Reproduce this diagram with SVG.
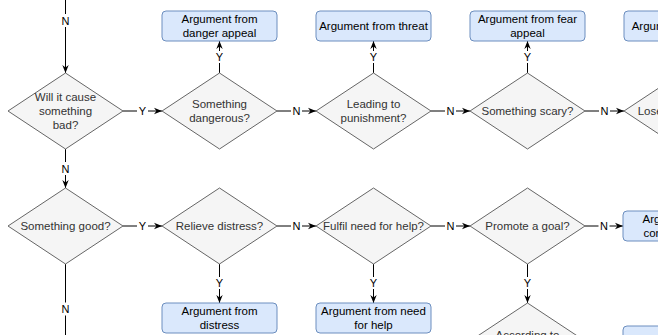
<svg xmlns="http://www.w3.org/2000/svg" width="658" height="335" viewBox="0 0 658 335">
<defs>
<style>
.d{fill:#f5f5f5;stroke:#666666;stroke-width:1}
.b{fill:#dae8fc;stroke:#6c8ebf;stroke-width:1}
.t{font-family:"Liberation Sans",Arial,Helvetica,sans-serif;font-size:11.5px;text-anchor:middle}
.dt{fill:#333333}
.bt{fill:#000000}
.e{stroke:#000000;stroke-width:1;fill:none;marker-end:url(#arr)}
.lb{fill:#ffffff}
.l{font-family:"Liberation Sans",Arial,Helvetica,sans-serif;font-size:11px;text-anchor:middle;fill:#000000}
</style>
<marker id="arr" viewBox="0 0 10 10" refX="10" refY="5" markerWidth="8" markerHeight="8" markerUnits="userSpaceOnUse" orient="auto">
<path d="M0,1 L10,5 L0,9 L3,5 z" fill="#000000"/>
</marker>
</defs>
<rect width="658" height="335" fill="#ffffff"/>

<g id="connectors">
<line class="e" x1="65.5" y1="0" x2="65.5" y2="73"/>
<line class="e" x1="123" y1="111" x2="162" y2="111"/>
<line class="e" x1="277" y1="111" x2="316" y2="111"/>
<line class="e" x1="431" y1="111" x2="470" y2="111"/>
<line class="e" x1="585" y1="111" x2="624" y2="111"/>
<line class="e" x1="219.5" y1="73" x2="219.5" y2="41"/>
<line class="e" x1="373.5" y1="73" x2="373.5" y2="41"/>
<line class="e" x1="527.5" y1="73" x2="527.5" y2="41"/>
<line class="e" x1="65.5" y1="149" x2="65.5" y2="188"/>
<line class="e" x1="123" y1="226" x2="162" y2="226"/>
<line class="e" x1="277" y1="226" x2="316" y2="226"/>
<line class="e" x1="431" y1="226" x2="470" y2="226"/>
<line class="e" x1="585" y1="226" x2="623" y2="226"/>
<line class="e" x1="219.5" y1="264" x2="219.5" y2="303"/>
<line class="e" x1="373.5" y1="264" x2="373.5" y2="303"/>
<line class="e" x1="527.5" y1="264" x2="527.5" y2="303"/>
<line x1="65.5" y1="264" x2="65.5" y2="340" stroke="#000000" stroke-width="1"/>
<g>
<rect class="lb" x="60" y="14" width="11" height="13"/><text class="l" x="65.5" y="25">N</text>
<rect class="lb" x="137" y="104.5" width="11" height="13"/><text class="l" x="142.5" y="115">Y</text>
<rect class="lb" x="291" y="104.5" width="11" height="13"/><text class="l" x="296.5" y="115">N</text>
<rect class="lb" x="445" y="104.5" width="11" height="13"/><text class="l" x="450.5" y="115">N</text>
<rect class="lb" x="599" y="104.5" width="11" height="13"/><text class="l" x="604.5" y="115">N</text>
<rect class="lb" x="214" y="51" width="11" height="12"/><text class="l" x="219.5" y="61">Y</text>
<rect class="lb" x="368" y="51" width="11" height="12"/><text class="l" x="373.5" y="61">Y</text>
<rect class="lb" x="522" y="51" width="11" height="12"/><text class="l" x="527.5" y="61">Y</text>
<rect class="lb" x="60" y="162" width="11" height="13"/><text class="l" x="65.5" y="172.5">N</text>
<rect class="lb" x="137" y="219.5" width="11" height="13"/><text class="l" x="142.5" y="230">Y</text>
<rect class="lb" x="291" y="219.5" width="11" height="13"/><text class="l" x="296.5" y="230">N</text>
<rect class="lb" x="445" y="219.5" width="11" height="13"/><text class="l" x="450.5" y="230">N</text>
<rect class="lb" x="598.5" y="219.5" width="11" height="13"/><text class="l" x="604" y="230">N</text>
<rect class="lb" x="214" y="277" width="11" height="12"/><text class="l" x="219.5" y="287">Y</text>
<rect class="lb" x="368" y="277" width="11" height="12"/><text class="l" x="373.5" y="287">Y</text>
<rect class="lb" x="522" y="277" width="11" height="12"/><text class="l" x="527.5" y="287">Y</text>
<rect class="lb" x="60" y="302.5" width="11" height="13"/><text class="l" x="65.5" y="313">N</text>
</g>
</g>

<g id="d-bad">
<polygon class="d" points="65.5,73 123,111 65.5,149 8,111"/>
<text class="t dt" x="65.5" y="101.3">Will it cause</text>
<text class="t dt" x="65.5" y="115.3">something</text>
<text class="t dt" x="65.5" y="129.3">bad?</text>
</g>
<g id="d-dangerous">
<polygon class="d" points="219.5,73 277,111 219.5,149 162,111"/>
<text class="t dt" x="219.5" y="108.3">Something</text>
<text class="t dt" x="219.5" y="122.3">dangerous?</text>
</g>
<g id="d-punishment">
<polygon class="d" points="373.5,73 431,111 373.5,149 316,111"/>
<text class="t dt" x="373.5" y="108.3">Leading to</text>
<text class="t dt" x="373.5" y="122.3">punishment?</text>
</g>
<g id="d-scary">
<polygon class="d" points="527.5,73 585,111 527.5,149 470,111"/>
<text class="t dt" x="527.5" y="115.3">Something scary?</text>
</g>
<g id="d-loss">
<polygon class="d" points="681.5,73 739,111 681.5,149 624,111"/>
<text class="t dt" x="681.5" y="115.3">Lose something?</text>
</g>

<g id="b-danger">
<rect class="b" x="162" y="11" width="115" height="30" rx="4"/>
<text class="t bt" x="219.5" y="23.3">Argument from</text>
<text class="t bt" x="219.5" y="37.3">danger appeal</text>
</g>
<g id="b-threat">
<rect class="b" x="316" y="11" width="115" height="30" rx="4"/>
<text class="t bt" x="373.5" y="30.3">Argument from threat</text>
</g>
<g id="b-fear">
<rect class="b" x="470" y="11" width="115" height="30" rx="4"/>
<text class="t bt" x="527.5" y="23.3">Argument from fear</text>
<text class="t bt" x="527.5" y="37.3">appeal</text>
</g>
<g id="b-loss">
<rect class="b" x="624" y="11" width="115" height="30" rx="4"/>
<text class="t bt" x="681.5" y="30.3">Argument from loss</text>
</g>

<g id="d-good">
<polygon class="d" points="65.5,188 123,226 65.5,264 8,226"/>
<text class="t dt" x="65.5" y="230.3">Something good?</text>
</g>
<g id="d-distress">
<polygon class="d" points="219.5,188 277,226 219.5,264 162,226"/>
<text class="t dt" x="219.5" y="230.3">Relieve distress?</text>
</g>
<g id="d-help">
<polygon class="d" points="373.5,188 431,226 373.5,264 316,226"/>
<text class="t dt" x="373.5" y="230.3">Fulfil need for help?</text>
</g>
<g id="d-goal">
<polygon class="d" points="527.5,188 585,226 527.5,264 470,226"/>
<text class="t dt" x="527.5" y="230.3">Promote a goal?</text>
</g>
<g id="b-consequences">
<rect class="b" x="623" y="211" width="115" height="30" rx="4"/>
<text class="t bt" x="680.5" y="223.3">Argument from</text>
<text class="t bt" x="680.5" y="237.3">consequences</text>
</g>

<g id="b-distress">
<rect class="b" x="162" y="303" width="115" height="30" rx="4"/>
<text class="t bt" x="219.5" y="315.3">Argument from</text>
<text class="t bt" x="219.5" y="329.3">distress</text>
</g>
<g id="b-help">
<rect class="b" x="316" y="303" width="115" height="30" rx="4"/>
<text class="t bt" x="373.5" y="315.3">Argument from need</text>
<text class="t bt" x="373.5" y="329.3">for help</text>
</g>
<g id="d-according">
<polygon class="d" points="527.5,303 585,341 527.5,379 470,341"/>
<text class="t dt" x="527.5" y="339.3">According to</text>
</g>
<g id="b-row3">
<rect class="b" x="623" y="326" width="115" height="30" rx="4"/>
</g>
</svg>
